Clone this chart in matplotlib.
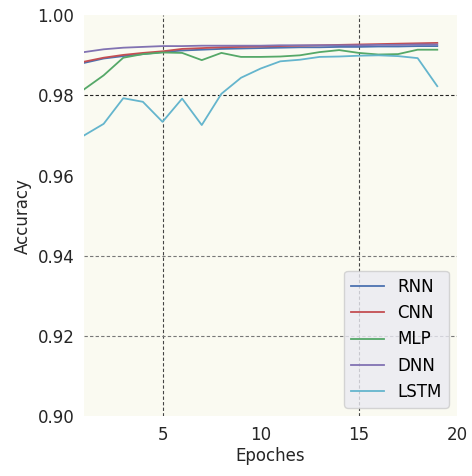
import matplotlib
matplotlib.use("Agg")
import matplotlib.pyplot as plt

# accuracy per epoch
epochs = list(range(1, 20))
rnn = [0.9881, 0.9892, 0.9898, 0.9903, 0.9908, 0.9912, 0.9914, 0.9916, 0.9917, 0.9918,
       0.9919, 0.9920, 0.9920, 0.9921, 0.9921, 0.9922, 0.9922, 0.9923, 0.9923]
cnn = [0.9884, 0.9894, 0.9901, 0.9906, 0.9910, 0.9916, 0.9918, 0.9920, 0.9921, 0.9922,
       0.9923, 0.9924, 0.9925, 0.9926, 0.9927, 0.9928, 0.9929, 0.9930, 0.9931]
mlp = [0.9815, 0.9850, 0.9894, 0.9903, 0.9907, 0.9906, 0.9888, 0.9906, 0.9896, 0.9896,
       0.9897, 0.9900, 0.9908, 0.9913, 0.9906, 0.9902, 0.9903, 0.9914, 0.9914]
dnn = [0.9908, 0.9915, 0.9919, 0.9921, 0.9923, 0.9923, 0.9924, 0.9924, 0.9924, 0.9924,
       0.9925, 0.9925, 0.9925, 0.9925, 0.9925, 0.9926, 0.9926, 0.9927, 0.9927]
lstm = [0.9700, 0.9729, 0.9793, 0.9784, 0.9734, 0.9792, 0.9726, 0.9804, 0.9844, 0.9867,
        0.9885, 0.9889, 0.9896, 0.9897, 0.9899, 0.9900, 0.9898, 0.9893, 0.9823]

series = [("RNN", rnn, "#4C72B0"), ("CNN", cnn, "#C44E52"), ("MLP", mlp, "#55A868"),
          ("DNN", dnn, "#8172B2"), ("LSTM", lstm, "#64B5CD")]

fig = plt.figure(figsize=(4.72, 4.76), dpi=100)
ax = fig.add_axes([0.178, 0.126, 0.790, 0.842])
ax.set_facecolor("#fafaf1")
for s in ax.spines.values():
    s.set_visible(False)

# the few grid lines that show in the picture
for xv in (5, 15):
    ax.axvline(xv, color="#444444", lw=0.8, ls=(0, (3, 2)), zorder=1)
ax.axhline(0.98, color="#222222", lw=0.8, ls=(0, (3, 2)), zorder=1)
for yv in (0.94, 0.92):
    ax.axhline(yv, color="#777777", lw=0.8, ls=(0, (3, 2)), zorder=1)

for name, vals, c in series:
    ax.plot(epochs, vals, color=c, lw=1.3, label=name, zorder=2)

ax.set_xlim(1, 20)
ax.set_ylim(0.90, 1.00)
ax.set_xticks([5, 10, 15, 20])
ax.set_yticks([0.90, 0.92, 0.94, 0.96, 0.98, 1.00])
ax.tick_params(length=0, labelsize=12, labelcolor="#262626", pad=7)
ax.set_xlabel("Epoches", fontsize=12, color="#262626", labelpad=2)
ax.set_ylabel("Accuracy", fontsize=12, color="#262626", labelpad=4)

leg = ax.legend(loc="lower right", fontsize=12, frameon=True, fancybox=True,
                facecolor="#eaeaf2", edgecolor="#cccccc", framealpha=0.8)
leg.set_zorder(5)

fig.savefig("out.png", dpi=100)
